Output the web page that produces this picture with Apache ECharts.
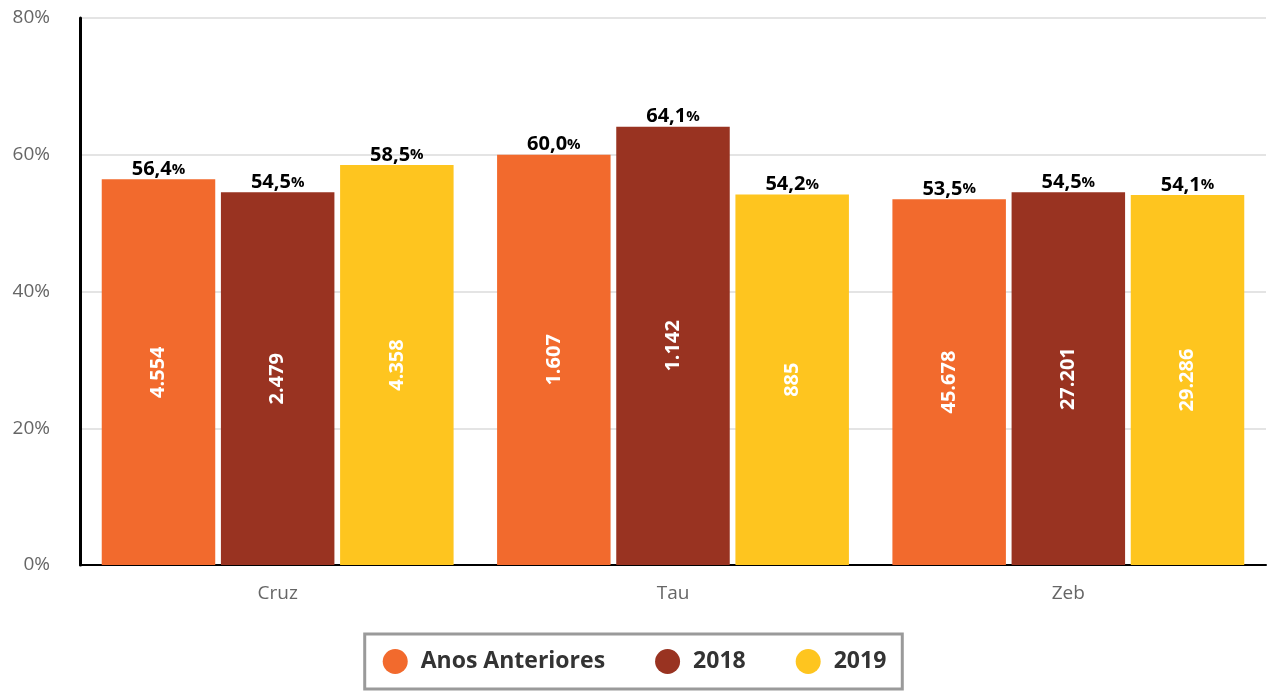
<!DOCTYPE html>
<html>
<head>
<meta charset="utf-8">
<script src="https://cdn.jsdelivr.net/npm/echarts@6/dist/echarts.min.js"></script>
<style>html,body{margin:0;padding:0;background:#fff}#c{width:1269px;height:691px}</style>
</head>
<body>
<div id="c"></div>
<script>
const categories = ['Cruz', 'Tau', 'Zeb'];
const seriesNames = ['Anos Anteriores', '2018', '2019'];
const pctAnos = [56.4, 60.0, 53.5];
const pct2018 = [54.5, 64.1, 54.5];
const pct2019 = [58.5, 54.2, 54.1];
const countAnos = ['4.554', '1.607', '45.678'];
const count2018 = ['2.479', '1.142', '27.201'];
const count2019 = ['4.358', '885', '29.286'];
const yTicks = [0, 20, 40, 60, 80];
const colors = ['#F26A2D', '#993321', '#FEC51F'];

const chart = echarts.init(document.getElementById('c'));
const font = '"Open Sans", sans-serif';
const pcts = [pctAnos, pct2018, pct2019];
const counts = [countAnos, count2018, count2019];

const series = [];
seriesNames.forEach((name, k) => {
  series.push({
    name: name,
    type: 'bar',
    stack: 's' + k,
    barGap: '5%',
    barCategoryGap: '11%',
    itemStyle: { color: colors[k] },
    data: pcts[k],
    label: {
      show: true, position: 'inside', rotate: 90,
      formatter: p => counts[k][p.dataIndex],
      fontFamily: font, fontWeight: 'bold', fontSize: 20, color: '#fff'
    }
  });
});
seriesNames.forEach((name, k) => {
  series.push({
    name: name + '_lbl',
    type: 'bar',
    stack: 's' + k,
    silent: true,
    itemStyle: { color: 'transparent' },
    data: pcts[k].map(() => 0),
    label: {
      show: true,
      position: 'top',
      distance: 0,
      formatter: p => '{a|' + pcts[k][p.dataIndex].toFixed(1).replace('.', ',') + '}{b|%}',
      rich: {
        a: { fontFamily: font, fontWeight: 'bold', fontSize: 20, color: '#000' },
        b: { fontFamily: font, fontWeight: 'bold', fontSize: 15, color: '#000' }
      }
    }
  });
});

chart.setOption({
  animation: false,
  textStyle: { fontFamily: font },
  grid: { left: 80, right: 3, top: 18, bottom: 126 },
  legend: {
    data: seriesNames,
    bottom: 2,
    left: 'center',
    icon: 'circle',
    itemWidth: 25,
    itemHeight: 25,
    itemGap: 50,
    padding: [15, 16, 15, 18],
    borderColor: '#9a9a9a',
    borderWidth: 3,
    textStyle: { fontFamily: font, fontWeight: 'bold', fontSize: 23, color: '#333', padding: [0, 0, 0, 8] }
  },
  xAxis: {
    type: 'category',
    data: categories,
    axisLine: { lineStyle: { color: '#000', width: 2 } },
    axisTick: { show: false },
    axisLabel: { fontFamily: font, fontSize: 19, color: '#666', margin: 19 }
  },
  yAxis: {
    type: 'value',
    min: yTicks[0], max: yTicks[yTicks.length - 1], interval: 20,
    axisLine: { show: true, lineStyle: { color: '#000', width: 3 } },
    axisTick: { show: false },
    splitLine: { lineStyle: { color: '#e4e4e4', width: 2 } },
    axisLabel: { fontFamily: font, fontSize: 19, color: '#666', margin: 30, formatter: v => v + '%' }
  },
  series: series
});
</script>
</body>
</html>
